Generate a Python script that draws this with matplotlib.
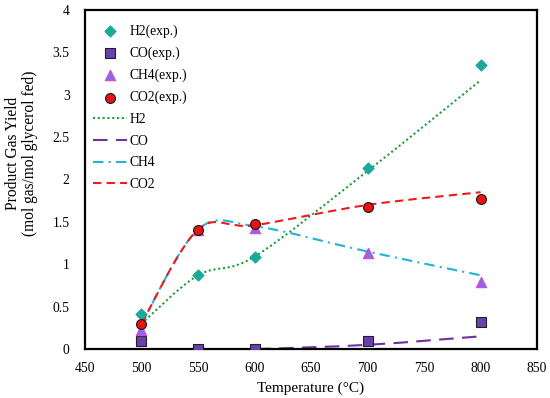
import matplotlib
matplotlib.use("Agg")
import matplotlib.pyplot as plt
from matplotlib.path import Path
from matplotlib.patches import PathPatch
from matplotlib.lines import Line2D
import numpy as np

plt.rcParams['font.family'] = ['Liberation Serif', 'DejaVu Serif']

temps = [500, 550, 600, 700, 800]

h2_exp = [0.41, 0.87, 1.09, 2.13, 3.35]
co_exp = [0.10, 0.00, 0.00, 0.10, 0.32]
ch4_exp = [0.22, 1.41, 1.43, 1.13, 0.79]
co2_exp = [0.29, 1.41, 1.47, 1.68, 1.77]

h2_mod = [0.30, 0.87, 1.09, 2.10, 3.17]
co_mod = [0.00, 0.00, 0.00, 0.05, 0.15]
ch4_mod = [0.30, 1.41, 1.45, 1.15, 0.87]
co2_mod = [0.30, 1.41, 1.46, 1.70, 1.85]

xticks = [450, 500, 550, 600, 650, 700, 750, 800, 850]
yticks = [0, 0.5, 1, 1.5, 2, 2.5, 3, 3.5, 4]
ytick_labels = ['0', '0.5', '1', '1.5', '2', '2.5', '3', '3.5', '4']

fig = plt.figure(figsize=(5.5, 3.98), dpi=100)
ax = fig.add_axes([0.1545, 0.123, 0.822, 0.852])


def smooth_path(x, y):
    # Excel-style smoothed line drawn as cubic Bezier segments
    x = np.asarray(x, float)
    y = np.asarray(y, float)
    n = len(x)
    verts = [(x[0], y[0])]
    codes = [Path.MOVETO]
    for i in range(n - 1):
        x0, y0 = (x[i - 1], y[i - 1]) if i > 0 else (x[i], y[i])
        x3, y3 = (x[i + 2], y[i + 2]) if i + 2 < n else (x[i + 1], y[i + 1])
        c1 = (x[i] + (x[i + 1] - x0) / 6, y[i] + (y[i + 1] - y0) / 6)
        c2 = (x[i + 1] - (x3 - x[i]) / 6, y[i + 1] - (y3 - y[i]) / 6)
        verts += [c1, c2, (x[i + 1], y[i + 1])]
        codes += [Path.CURVE4] * 3
    return Path(verts, codes)


line_styles = [
    (h2_mod, '#1f9e3a', (0, (1, 1.3)), 'H2'),
    (co_mod, '#7030A0', (0, (7, 4)), 'CO'),
    (ch4_mod, '#1fb4d6', (0, (5, 2.5, 1, 2.5)), 'CH4'),
    (co2_mod, '#ee1c1c', (0, (4, 2.5)), 'CO2'),
]

line_handles = []
for vals, col, ls, lab in line_styles:
    patch = PathPatch(smooth_path(temps, vals), facecolor='none', edgecolor=col,
                      linestyle=ls, linewidth=1.5, zorder=2)
    ax.add_patch(patch)
    line_handles.append(Line2D([], [], color=col, linestyle=ls, linewidth=1.5, label=lab))

m1 = ax.scatter(temps, h2_exp, marker='D', s=30, color='#1aa99b', edgecolor='#1aa99b',
                zorder=3, label='H2(exp.)')
m2 = ax.scatter(temps, co_exp, marker='s', s=55, color='#6a3fb0', edgecolor='#222222',
                linewidth=0.8, zorder=3, label='CO(exp.)')
m3 = ax.scatter(temps, ch4_exp, marker='^', s=55, color='#7f6fe0', edgecolor='#e040d0',
                linewidth=0.8, zorder=3, label='CH4(exp.)')
m4 = ax.scatter(temps, co2_exp, marker='o', s=50, color='#ee1111', edgecolor='#222222',
                linewidth=0.9, zorder=3, label='CO2(exp.)')

ax.set_xlim(450, 850)
ax.set_ylim(0, 4)
ax.set_xticks(xticks)
ax.set_yticks(yticks)
ax.set_yticklabels(ytick_labels)
ax.tick_params(axis='x', length=0, labelsize=9.8, pad=9)
ax.tick_params(axis='y', length=0, labelsize=9.8, pad=11)
for s in ax.spines.values():
    s.set_linewidth(1.6)
    s.set_color('black')

ax.set_xlabel('Temperature (°C)', fontsize=11, labelpad=5)
ax.set_ylabel('Product Gas Yield\n(mol gas/mol glycerol fed)', fontsize=11.2, linespacing=1.05)
ax.yaxis.set_label_coords(-0.104, 0.578)

ax.legend(handles=[m1, m2, m3, m4] + line_handles, loc='upper left', frameon=False,
          fontsize=9.8, handlelength=2.5, handletextpad=0.2, labelspacing=0.64,
          borderaxespad=0.2, bbox_to_anchor=(0.0, 0.982))

fig.savefig('out.png', dpi=100)
